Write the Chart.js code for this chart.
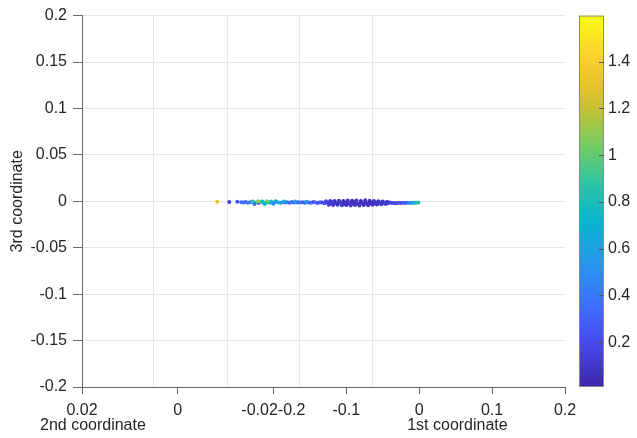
<!DOCTYPE html>
<html>
<head>
<meta charset="utf-8">
<script src="https://cdn.jsdelivr.net/npm/chart.js@4.4.0/dist/chart.umd.min.js"></script>
<style>
  html, body { margin: 0; padding: 0; background: #fff; }
  #wrap { width: 637px; height: 438px; }
</style>
</head>
<body>
<div id="wrap"><canvas id="chart"></canvas></div>
<script>
// horizontal place of each point in the view, in 1st-coordinate units
const proj1 = [
  -0.277, -0.2605, -0.2495,
  -0.244, -0.241, -0.238, -0.235, -0.232, -0.229, -0.226, -0.223, -0.220, -0.217,
  -0.214, -0.211, -0.208, -0.205, -0.202, -0.199, -0.196, -0.193, -0.190, -0.187,
  -0.184, -0.181, -0.178, -0.175, -0.172, -0.169, -0.166, -0.163, -0.160, -0.157,
  -0.154, -0.151, -0.148, -0.145, -0.142, -0.139, -0.136, -0.133, -0.130, -0.127,
  -0.124, -0.121, -0.118, -0.115, -0.112, -0.109, -0.106, -0.103, -0.100, -0.097,
  -0.094, -0.091, -0.088, -0.085, -0.082, -0.079, -0.076, -0.073, -0.070, -0.067,
  -0.064, -0.061, -0.058, -0.055, -0.052, -0.049, -0.046, -0.043, -0.040, -0.037,
  -0.034, -0.031, -0.028, -0.025, -0.022, -0.019, -0.016, -0.013, -0.010, -0.007,
  -0.004,
  -0.228, -0.221, -0.215, -0.209, -0.203, -0.197, -0.185, -0.170, -0.155, -0.128,
  -0.122, -0.116, -0.110, -0.104, -0.098, -0.092, -0.086, -0.080, -0.074, -0.068,
  -0.062, -0.056, -0.050, -0.044,
  -0.226, -0.212, -0.200, -0.124, -0.118, -0.112, -0.106, -0.100, -0.094, -0.088,
  -0.082, -0.076, -0.070, -0.064, -0.058, -0.052, -0.046,
  -0.001
];
const coord3 = [
  -0.0005, -0.0008, -0.0006,
  -0.0010, -0.0014, -0.0008, -0.0016, -0.0011, -0.0005, -0.0015, -0.0009, -0.0018, -0.0004,
  -0.0013, -0.0020, -0.0007, -0.0015, -0.0010, -0.0017, -0.0006, -0.0012, -0.0016, -0.0009,
  -0.0013, -0.0011, -0.0015, -0.0008, -0.0012, -0.0014, -0.0010, -0.0013, -0.0009, -0.0015,
  -0.0011, -0.0012, -0.0016, -0.0008, -0.0013, -0.0018, -0.0010, -0.0014, -0.0021, -0.0009,
  -0.0016, -0.0024, -0.0011, -0.0019, -0.0026, -0.0013, -0.0020, -0.0028, -0.0012, -0.0022,
  -0.0017, -0.0027, -0.0010, -0.0021, -0.0030, -0.0015, -0.0024, -0.0012, -0.0026, -0.0018,
  -0.0014, -0.0023, -0.0016, -0.0021, -0.0013, -0.0019, -0.0016, -0.0022, -0.0014, -0.0019,
  -0.0017, -0.0021, -0.0015, -0.0019, -0.0016, -0.0018, -0.0015, -0.0017, -0.0016, -0.0015,
  -0.0016,
  -0.0001, 0.0001, -0.0002, 0.0000, -0.0003, 0.0000, -0.0003, -0.0002, -0.0004, 0.0000,
  0.0004, 0.0002, 0.0006, 0.0003, 0.0008, 0.0005, 0.0009, 0.0004, 0.0010, 0.0006,
  0.0003, 0.0001, -0.0002, -0.0004,
  -0.0028, -0.0030, -0.0027, -0.0036, -0.0040, -0.0038, -0.0043, -0.0039, -0.0045, -0.0041,
  -0.0044, -0.0040, -0.0042, -0.0037, -0.0035, -0.0032, -0.0030,
  -0.0012
];
const colourVal = [
  1.30, 0.12, 0.25,
  0.35, 0.40, 0.32, 0.45, 0.38, 0.55, 0.42, 0.85, 0.30, 1.05,
  0.65, 0.95, 0.50, 0.78, 0.60, 0.88, 0.45, 0.70, 0.52, 0.62,
  0.36, 0.44, 0.33, 0.40, 0.30, 0.42, 0.28, 0.38, 0.34, 0.26,
  0.40, 0.24, 0.36, 0.22, 0.38, 0.20, 0.30, 0.18, 0.25, 0.15,
  0.20, 0.12, 0.18, 0.10, 0.14, 0.08, 0.16, 0.07, 0.11, 0.06,
  0.13, 0.09, 0.05, 0.12, 0.07, 0.10, 0.05, 0.09, 0.06, 0.11,
  0.05, 0.08, 0.10, 0.06, 0.14, 0.08, 0.12, 0.09, 0.18, 0.13,
  0.22, 0.16, 0.25, 0.20, 0.30, 0.26, 0.38, 0.45, 0.55, 0.68,
  0.80,
  0.90, 1.10, 0.75, 1.00, 0.82, 0.65, 0.60, 0.62, 0.58, 0.20,
  0.10, 0.06, 0.09, 0.05, 0.08, 0.04, 0.07, 0.05, 0.08, 0.06,
  0.09, 0.07, 0.10, 0.12,
  0.40, 0.70, 0.48, 0.14, 0.09, 0.06, 0.10, 0.05, 0.08, 0.06,
  0.09, 0.05, 0.07, 0.06, 0.08, 0.10, 0.12,
  0.85
];

const firstCoordTicks = [-0.2, -0.1, 0, 0.1, 0.2];
const secondCoordTicks = [0.02, 0, -0.02];
const coord3Ticks = [-0.2, -0.15, -0.1, -0.05, 0, 0.05, 0.1, 0.15, 0.2];
const colourTicks = [0.2, 0.4, 0.6, 0.8, 1, 1.2, 1.4];
const colourLimits = [0.008, 1.597];
// grid lines of the back wall of the 3-D box, in view units
const backGrid = [-0.364, -0.263, -0.164, -0.064];

const VIEW_MIN = -0.4625, VIEW_MAX = 0.2;
const INK = '#262626';
const AXIS = '#666666';
const GRID = '#e6e6e6';
const FONT = "'Liberation Sans', Arial, Helvetica, sans-serif";

// 2nd coordinate runs along the same bottom edge: 0.02 at the left corner, -0.02 where 1st is -0.2
function secondToView(v) { return -0.2 - (v + 0.02) * 6.5625; }

const bottomTicks = [];
secondCoordTicks.forEach(v => bottomTicks.push({ value: secondToView(v), label: String(v) }));
firstCoordTicks.forEach(v => {
  const same = bottomTicks.find(t => Math.abs(t.value - v) < 1e-9);
  if (same) same.label += String(v);
  else bottomTicks.push({ value: v, label: String(v) });
});
bottomTicks.sort((a, b) => a.value - b.value);

const parula = [
  [0.2422, 0.1504, 0.6603], [0.2803, 0.2782, 0.9221], [0.2440, 0.4358, 0.9988],
  [0.1540, 0.5902, 0.9218], [0.0297, 0.7082, 0.8163], [0.1938, 0.7758, 0.6251],
  [0.5044, 0.7993, 0.3480], [0.8634, 0.7406, 0.1596], [0.9892, 0.8136, 0.1885],
  [0.9769, 0.9839, 0.0805]
];
function parulaAt(t) {
  t = Math.max(0, Math.min(1, t));
  const p = t * (parula.length - 1);
  const i = Math.min(Math.floor(p), parula.length - 2);
  const f = p - i;
  const c = [0, 1, 2].map(k => Math.round(255 * (parula[i][k] + (parula[i + 1][k] - parula[i][k]) * f)));
  return 'rgb(' + c.join(',') + ')';
}
function colourFor(v) {
  return parulaAt((v - colourLimits[0]) / (colourLimits[1] - colourLimits[0]));
}

const points = proj1.map((x, i) => ({ x: x, y: coord3[i] }));

const colourbar = {
  id: 'colourbar',
  afterDraw(chart) {
    const cb = chart.scales.cb;
    const ctx = chart.ctx;
    const x0 = cb.left + 14, x1 = cb.left + 39;
    const yTop = cb.getPixelForValue(colourLimits[1]);
    const yBot = cb.getPixelForValue(colourLimits[0]);
    const g = ctx.createLinearGradient(0, yBot, 0, yTop);
    for (let k = 0; k <= 20; k++) g.addColorStop(k / 20, parulaAt(k / 20));
    ctx.save();
    ctx.fillStyle = g;
    ctx.fillRect(x0, yTop, x1 - x0, yBot - yTop);
    ctx.strokeStyle = '#8a8a8a';
    ctx.lineWidth = 1;
    ctx.strokeRect(x0 + 0.5, yTop + 0.5, x1 - x0 - 1, yBot - yTop - 1);
    ctx.strokeStyle = '#555';
    colourTicks.forEach(v => {
      const y = Math.round(cb.getPixelForValue(v)) + 0.5;
      ctx.beginPath();
      ctx.moveTo(x1 - 5, y);
      ctx.lineTo(x1, y);
      ctx.stroke();
    });
    ctx.restore();
  }
};

const axisNames = {
  id: 'axisNames',
  afterDraw(chart) {
    const x = chart.scales.x;
    const ctx = chart.ctx;
    ctx.save();
    ctx.fillStyle = INK;
    ctx.font = '16px ' + FONT;
    ctx.textBaseline = 'middle';
    ctx.textAlign = 'left';
    ctx.fillText('2nd coordinate', x.getPixelForValue(secondToView(0.02)) - 42, 426);
    ctx.fillText('1st coordinate', x.getPixelForValue(0) - 12, 426);
    ctx.restore();
  }
};

new Chart(document.getElementById('chart'), {
  type: 'scatter',
  data: {
    datasets: [{
      data: points,
      pointRadius: 2,
      pointBorderWidth: 0,
      pointBackgroundColor: colourVal.map(colourFor),
      pointHoverRadius: 2
    }]
  },
  options: {
    responsive: true,
    maintainAspectRatio: false,
    animation: false,
    events: [],
    layout: { padding: { top: 15, right: 0, bottom: 19, left: 0 } },
    plugins: { legend: { display: false }, tooltip: { enabled: false } },
    scales: {
      x: {
        type: 'linear',
        position: 'bottom',
        min: VIEW_MIN,
        max: VIEW_MAX,
        afterBuildTicks: s => { s.ticks = bottomTicks.map(t => ({ value: t.value })); },
        afterFit: s => { s.height = 32; },
        ticks: {
          autoSkip: false,
          maxRotation: 0,
          padding: 7,
          color: INK,
          font: { family: FONT, size: 16 },
          callback: (v, i) => bottomTicks[i].label
        },
        grid: { drawOnChartArea: false, drawTicks: true, tickLength: 7, tickColor: AXIS },
        border: { color: AXIS, width: 1 }
      },
      xg: {
        type: 'linear',
        position: 'top',
        min: VIEW_MIN,
        max: VIEW_MAX,
        afterBuildTicks: s => { s.ticks = backGrid.map(v => ({ value: v })); },
        afterFit: s => { s.height = 0; },
        ticks: { display: false, padding: 0 },
        grid: { color: GRID, drawTicks: false },
        border: { display: false }
      },
      y: {
        type: 'linear',
        min: -0.2,
        max: 0.2,
        afterBuildTicks: s => { s.ticks = coord3Ticks.map(v => ({ value: v })); },
        afterFit: s => { s.width = 82; },
        ticks: {
          padding: 6,
          color: INK,
          font: { family: FONT, size: 16 },
          callback: (v, i) => String(coord3Ticks[i])
        },
        grid: { color: GRID, tickColor: AXIS, tickLength: 9 },
        border: { color: AXIS, width: 1 },
        title: {
          display: true,
          text: '3rd coordinate',
          color: INK,
          font: { family: FONT, size: 16 },
          padding: { top: 8, bottom: 0 }
        }
      },
      cb: {
        type: 'linear',
        position: 'right',
        min: colourLimits[0],
        max: colourLimits[1],
        afterBuildTicks: s => { s.ticks = colourTicks.map(v => ({ value: v })); },
        afterFit: s => { s.width = 72; },
        ticks: {
          padding: 2,
          color: INK,
          font: { family: FONT, size: 16 },
          callback: (v, i) => String(colourTicks[i])
        },
        grid: { display: false, drawTicks: true, tickLength: 41 },
        border: { display: false }
      }
    }
  },
  plugins: [colourbar, axisNames]
});
</script>
</body>
</html>
